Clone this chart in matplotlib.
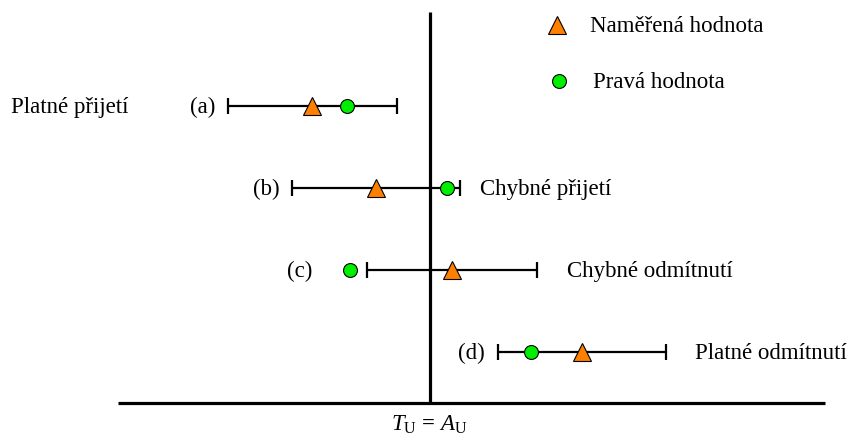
import matplotlib
matplotlib.use("Agg")
import matplotlib.pyplot as plt

# Data (values relative to the limit T_U = A_U, in units of the expanded uncertainty)
cases = ["(a)", "(b)", "(c)", "(d)"]
measured = [-1.40, -0.64, 0.26, 1.81]
true_vals = [-0.99, 0.20, -0.95, 1.20]
uncertainty = [1.01, 1.00, 1.01, 1.00]
outcomes = ["Platné přijetí", "Chybné přijetí", "Chybné odmítnutí", "Platné odmítnutí"]
legend_labels = ["Naměřená hodnota", "Pravá hodnota"]

plt.rcParams['font.family'] = ['Liberation Serif', 'DejaVu Serif']
plt.rcParams['mathtext.fontset'] = 'custom'
plt.rcParams['mathtext.rm'] = 'Liberation Serif'
plt.rcParams['mathtext.it'] = 'Liberation Serif:italic'
plt.rcParams['mathtext.bf'] = 'Liberation Serif:bold'

W, H = 850, 438
fig = plt.figure(figsize=(W / 100, H / 100), dpi=100)
ax = fig.add_axes([0, 0, 1, 1])

# pixel -> data helpers (layout only)
X0, SX = 430.0, 84.0
Y0, SY = 106.0, 82.0
def px(x):
    return (x - X0) / SX
def py(y):
    return (y - Y0) / SY

ax.set_xlim(px(0), px(W))
ax.set_ylim(py(H), py(0))
ax.axis('off')

ORANGE = '#FF8000'
GREEN = '#00EE00'
FS = 16.5

rows = list(range(len(cases)))

# axes lines
ax.plot([0, 0], [py(12), py(403)], color='black', lw=2.3, solid_capstyle='butt', zorder=1)
ax.plot([px(118), px(825)], [py(403), py(403)], color='black', lw=2.3, solid_capstyle='butt', zorder=1)

# error bars with measured values
ax.errorbar(measured, rows, xerr=uncertainty, fmt='none', ecolor='black',
            elinewidth=1.6, capsize=5.5, capthick=1.6, zorder=2)
ax.plot(measured, rows, linestyle='none', marker='^', ms=13.5, mfc=ORANGE,
        mec='black', mew=0.8, zorder=4)
ax.plot(true_vals, rows, linestyle='none', marker='o', ms=10, mfc=GREEN,
        mec='black', mew=0.8, zorder=3)

# case labels (right-aligned before each bar / point)
case_right_px = [215, 280, 312, 485]
for i, (lab, xr) in enumerate(zip(cases, case_right_px)):
    ax.text(px(xr), i + 0.02, lab, ha='right', va='center', fontsize=FS)

# outcome labels
ax.text(px(11), 0.02, outcomes[0], ha='left', va='center', fontsize=FS)
ax.text(px(480), 1.02, outcomes[1], ha='left', va='center', fontsize=FS)
ax.text(px(567), 2.02, outcomes[2], ha='left', va='center', fontsize=FS)
ax.text(px(695), 3.02, outcomes[3], ha='left', va='center', fontsize=FS)

# legend (manual)
ax.plot([px(557)], [py(25)], linestyle='none', marker='^', ms=13.5, mfc=ORANGE,
        mec='black', mew=0.8)
ax.text(px(590), py(27), legend_labels[0], ha='left', va='center', fontsize=FS)
ax.plot([px(559)], [py(81)], linestyle='none', marker='o', ms=10, mfc=GREEN,
        mec='black', mew=0.8)
ax.text(px(593), py(82), legend_labels[1], ha='left', va='center', fontsize=FS)

# bottom label
ax.text(0, py(425), r'$T_{\mathrm{U}}\,\mathbf{=}\,A_{\mathrm{U}}$', ha='center', va='center',
        fontsize=FS)

fig.savefig('out.png', dpi=100)
